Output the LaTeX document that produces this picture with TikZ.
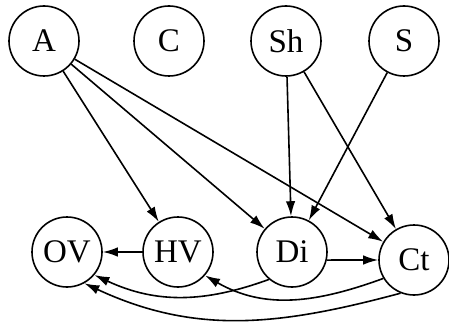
\documentclass[tikz,border=0pt]{standalone}
\usepackage{fontspec}
\setmainfont{Liberation Serif}
\usetikzlibrary{arrows.meta}
\begin{document}
\begin{tikzpicture}[x=1pt,y=1pt,
  var/.style={circle, draw, line width=1.6pt, minimum size=70pt, inner sep=0pt, font=\fontsize{33}{38}\selectfont},
  arr/.style={line width=1.6pt, -{Latex[length=15pt,width=9.5pt]}}]
\useasboundingbox (0,0) rectangle (449,327);
\node[var] (A) at (44,286){A};
\node[var] (C) at (169,286){C};
\node[var] (Sh) at (286,286){Sh};
\node[var] (S) at (404,286){S};
\node[var] (OV) at (67,75){OV};
\node[var] (HV) at (178,75){HV};
\node[var] (Di) at (292,75){Di};
\node[var] (Ct) at (414,67){Ct};
\draw[arr] (A) -- (HV);
\draw[arr] (A) -- (Di);
\draw[arr] (A) -- (Ct);
\draw[arr] (Sh) -- (Di);
\draw[arr] (Sh) -- (Ct);
\draw[arr] (S) -- (Di);
\draw[arr] (HV) -- (OV);
\draw[arr] (Di.-13) -- (Ct.west);
\draw[arr] (Di.230) to[out=200,in=-25] (OV.-40);
\draw[arr] (Ct.211) to[out=200,in=-30] (HV.-41);
\draw[arr] (Ct.248) to[out=195,in=-25] (OV.-61);

\end{tikzpicture}
\end{document}
